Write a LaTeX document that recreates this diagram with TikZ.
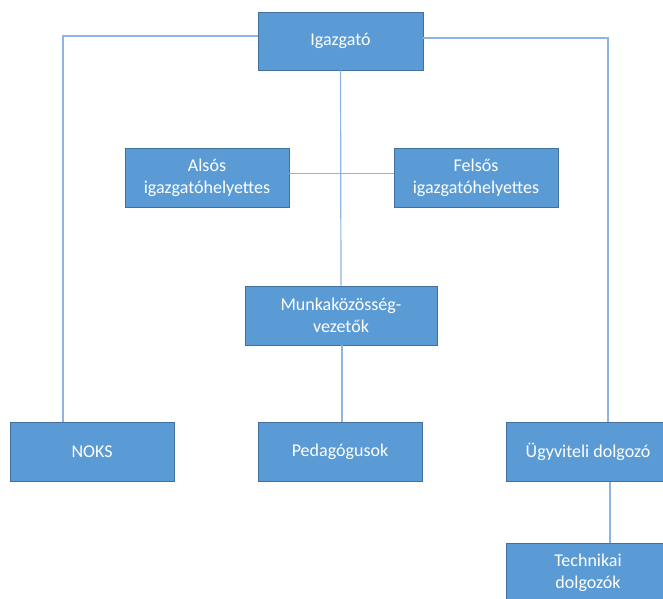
\documentclass[tikz,border=0pt]{standalone}
\usepackage{fontspec}
\setmainfont{Carlito}
\usetikzlibrary{calc}
\definecolor{boxfill}{HTML}{5B9BD5}
\definecolor{boxedge}{HTML}{41719C}
\definecolor{linkc}{HTML}{8DB4E2}
\begin{document}
\begin{tikzpicture}[x=1pt,y=-1pt,
  orgbox/.style={draw=boxedge, line width=0.8pt, fill=boxfill, text=white,
    minimum width=164pt, minimum height=59pt, inner sep=0pt, align=center,
    font=\fontsize{18}{22}\selectfont},
  link/.style={draw=linkc, line width=1.2pt}]
\useasboundingbox (0,0) rectangle (663,598);
\clip (0,0) rectangle (663,598);
\node[orgbox, minimum width=165pt, minimum height=58pt] (igaz) at (340.5,41) {Igazgató};
\node[orgbox] (also) at (207,177.5) {Alsós\\igazgatóhelyettes};
\node[orgbox] (felso) at (476,177.5) {Felsős\\igazgatóhelyettes};
\node[orgbox, minimum width=192pt] (munka) at (341,315.5) {Munkaközösség-\\vezetők};
\node[orgbox] (noks) at (92,452) {NOKS};
\node[orgbox] (ped) at (340,452) {Pedagógusok};
\node[orgbox] (ugy) at (588,452) {Ügyviteli dolgozó};
\node[orgbox] (tech) at (588,572.5) {Technikai\\dolgozók};
\coordinate (lturn) at (63,36);
\coordinate (rturn) at (608,38);
\draw[link] ($(igaz.west)+(0,-5)$) -- (lturn) -- (lturn |- noks.north);
\draw[link] ($(igaz.east)+(0,-3)$) -- (rturn) -- (rturn |- ugy.north);
\draw[link] (igaz.south) -- (munka.north);
\draw[link] ($(also.east)+(0,-4)$) -- ($(felso.west)+(0,-4)$);
\draw[link] ($(munka.south)+(1,0)$) -- ($(ped.north)+(2,0)$);
\draw[link] ($(ugy.south)+(22,0)$) -- ($(tech.north)+(22,0)$);
\end{tikzpicture}
\end{document}
